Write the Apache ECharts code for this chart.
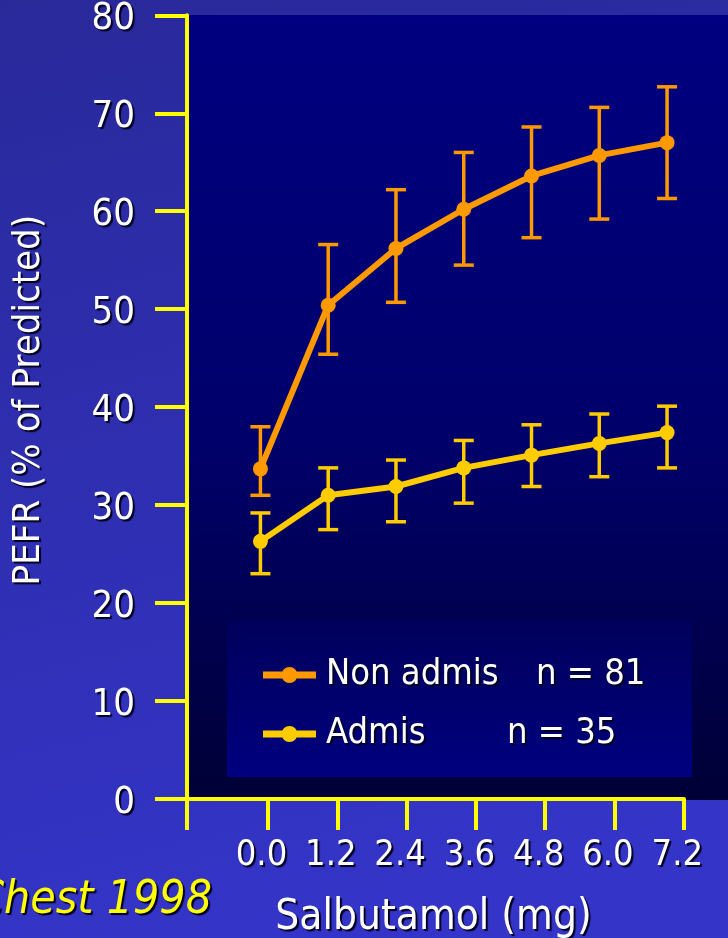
<!DOCTYPE html>
<html>
<head>
<meta charset="utf-8">
<script src="https://cdn.jsdelivr.net/npm/echarts@6/dist/echarts.min.js"></script>
<style>
  html, body { margin: 0; padding: 0; }
  #chart { width: 728px; height: 938px; }
</style>
</head>
<body>
<div id="chart"></div>
<script>
// Salbutamol dose (mg)
const doses = [0.0, 1.2, 2.4, 3.6, 4.8, 6.0, 7.2];
const doseLabels = ['0.0', '1.2', '2.4', '3.6', '4.8', '6.0', '7.2'];

// PEFR (% of predicted): non admitted patients, n = 81
const nonAdmisMean = [33.7, 50.4, 56.2, 60.2, 63.6, 65.7, 67.0];
const nonAdmisHigh = [38.0, 56.6, 62.2, 66.0, 68.6, 70.6, 72.7];
const nonAdmisLow  = [31.0, 45.4, 50.7, 54.5, 57.3, 59.2, 61.3];

// PEFR (% of predicted): admitted patients, n = 35
const admisMean = [26.3, 31.0, 31.9, 33.8, 35.1, 36.3, 37.4];
const admisHigh = [29.2, 33.8, 34.6, 36.6, 38.2, 39.3, 40.1];
const admisLow  = [23.0, 27.5, 28.3, 30.2, 31.9, 32.9, 33.8];

const yTicks = [0, 10, 20, 30, 40, 50, 60, 70, 80];

const FONT = '"DejaVu Sans Condensed", "DejaVu Sans", sans-serif';
const ORANGE = '#ff9900';
const YELLOW = '#ffcc00';
const AXIS = '#ffff00';
const SHADOW = { textShadowColor: '#000020', textShadowOffsetX: 2, textShadowOffsetY: 2, textShadowBlur: 1 };

// legend glyph: thick line segment with a dot in the middle
const LEGEND_ICON = 'path://M0,4.5H53V11.5H0Z M18.5,8A8,8 0 1,1 34.5,8A8,8 0 1,1 18.5,8Z';

// x axis extent and tick placement (axis units)
const X_MIN = -1.3, X_MAX = 7.5;
const TICK_FIRST = 0.134, TICK_STEP = 1.227;
const tickValues = [X_MIN].concat(doseLabels.map((_, i) => TICK_FIRST + i * TICK_STEP));
const labelValues = doseLabels.map((_, i) => TICK_FIRST + i * TICK_STEP);

function nearestLabel(v) {
  let best = 0;
  labelValues.forEach((lv, i) => { if (Math.abs(lv - v) < Math.abs(labelValues[best] - v)) best = i; });
  return doseLabels[best];
}

function errorData(low, high) {
  return doses.map((d, i) => [d, low[i], high[i]]);
}

function renderErrorBar(color) {
  return function (params, api) {
    const x = api.value(0);
    const lo = api.coord([x, api.value(1)]);
    const hi = api.coord([x, api.value(2)]);
    const half = 10;
    const style = { stroke: color, lineWidth: 3.5 };
    return {
      type: 'group',
      children: [
        { type: 'line', shape: { x1: hi[0], y1: hi[1], x2: lo[0], y2: lo[1] }, style },
        { type: 'line', shape: { x1: hi[0] - half, y1: hi[1], x2: hi[0] + half, y2: hi[1] }, style },
        { type: 'line', shape: { x1: lo[0] - half, y1: lo[1], x2: lo[0] + half, y2: lo[1] }, style }
      ]
    };
  };
}

const chart = echarts.init(document.getElementById('chart'), null, { renderer: 'canvas' });

chart.setOption({
  animation: false,
  backgroundColor: {
    type: 'linear', x: 0, y: 0, x2: 0.3, y2: 1,
    colorStops: [{ offset: 0, color: '#29299a' }, { offset: 1, color: '#3434c8' }]
  },
  graphic: [
    {
      type: 'rect', z: -10, silent: true,
      shape: { x: 187, y: 15, width: 541, height: 785 },
      style: {
        fill: {
          type: 'linear', x: 0, y: 0, x2: 0, y2: 1,
          colorStops: [{ offset: 0, color: '#000080' }, { offset: 0.55, color: '#00006a' }, { offset: 1, color: '#000036' }]
        }
      }
    },
    {
      type: 'rect', z: -9, silent: true,
      shape: { x: 227, y: 619, width: 465, height: 158 },
      style: {
        fill: {
          type: 'linear', x: 0, y: 0, x2: 0, y2: 1,
          colorStops: [{ offset: 0, color: '#00005a' }, { offset: 1, color: '#000080' }]
        }
      }
    },
    {
      type: 'text', silent: true,
      style: {
        text: 'Chest 1998', x: 212, y: 901, align: 'right', verticalAlign: 'middle',
        font: 'italic 46px ' + FONT, fill: '#ffff00',
        textShadowColor: '#000020', textShadowOffsetX: 2, textShadowOffsetY: 2, textShadowBlur: 1
      }
    }
  ],
  grid: { left: 187, right: 44, top: 15.3, bottom: 139, containLabel: false, outerBoundsMode: 'none' },
  xAxis: {
    type: 'value', min: X_MIN, max: X_MAX,
    name: 'Salbutamol (mg)', nameLocation: 'middle', nameGap: 98,
    nameTextStyle: Object.assign({ color: '#ffffff', fontSize: 42, fontFamily: FONT, padding: [0, 4, 0, 0] }, SHADOW),
    axisLine: { show: true, onZero: false, lineStyle: { color: AXIS, width: 4 } },
    axisTick: { show: true, length: 31, customValues: tickValues, lineStyle: { color: AXIS, width: 4 } },
    axisLabel: Object.assign({
      customValues: labelValues, color: '#ffffff', fontSize: 36, fontFamily: FONT,
      margin: 39, padding: [0, 13, 0, 0], formatter: v => nearestLabel(v)
    }, SHADOW),
    splitLine: { show: false }
  },
  yAxis: {
    type: 'value', min: 0, max: 80, interval: 10,
    name: 'PEFR (% of Predicted)', nameLocation: 'middle', nameGap: 139,
    nameTextStyle: Object.assign({ color: '#ffffff', fontSize: 38, fontFamily: FONT, padding: [0, 0, 0, 14] }, SHADOW),
    axisLine: { show: true, onZero: false, lineStyle: { color: AXIS, width: 4 } },
    axisTick: { show: true, length: 32, lineStyle: { color: AXIS, width: 4 } },
    axisLabel: Object.assign({
      color: '#ffffff', fontSize: 38, fontFamily: FONT, margin: 52,
      formatter: v => (yTicks.indexOf(v) >= 0 ? '{v|' + v + '}' : ''),
      rich: { v: Object.assign({ color: '#ffffff', fontSize: 38, fontFamily: FONT, padding: [8, 0, 0, 0] }, SHADOW) }
    }, SHADOW),
    splitLine: { show: false }
  },
  legend: {
    orient: 'vertical', left: 258, top: 652,
    itemWidth: 53, itemHeight: 16, itemGap: 23,
    icon: LEGEND_ICON,
    data: ['Non admis', 'Admis'],
    formatter: function (name) {
      return name === 'Non admis'
        ? '{a|Non admis}{n|n = 81}'
        : '{b|Admis}{n|n = 35}';
    },
    textStyle: Object.assign({
      color: '#ffffff', fontSize: 36, fontFamily: FONT, padding: [0, 0, 0, 5],
      rich: {
        a: Object.assign({ width: 210, fontSize: 36, fontFamily: FONT, color: '#ffffff' }, SHADOW),
        b: Object.assign({ width: 181, fontSize: 36, fontFamily: FONT, color: '#ffffff' }, SHADOW),
        n: Object.assign({ fontSize: 36, fontFamily: FONT, color: '#ffffff' }, SHADOW)
      }
    }, SHADOW)
  },
  series: [
    {
      name: 'Non admis range', type: 'custom', z: 2,
      data: errorData(nonAdmisLow, nonAdmisHigh),
      encode: { x: 0, y: [1, 2] },
      renderItem: renderErrorBar(ORANGE)
    },
    {
      name: 'Admis range', type: 'custom', z: 2,
      data: errorData(admisLow, admisHigh),
      encode: { x: 0, y: [1, 2] },
      renderItem: renderErrorBar(YELLOW)
    },
    {
      name: 'Non admis', type: 'line', z: 3,
      data: doses.map((d, i) => [d, nonAdmisMean[i]]),
      symbol: 'circle', symbolSize: 15, showAllSymbol: true,
      lineStyle: { color: ORANGE, width: 6 },
      itemStyle: { color: ORANGE }
    },
    {
      name: 'Admis', type: 'line', z: 3,
      data: doses.map((d, i) => [d, admisMean[i]]),
      symbol: 'circle', symbolSize: 15, showAllSymbol: true,
      lineStyle: { color: YELLOW, width: 6 },
      itemStyle: { color: YELLOW }
    }
  ]
});
</script>
</body>
</html>
